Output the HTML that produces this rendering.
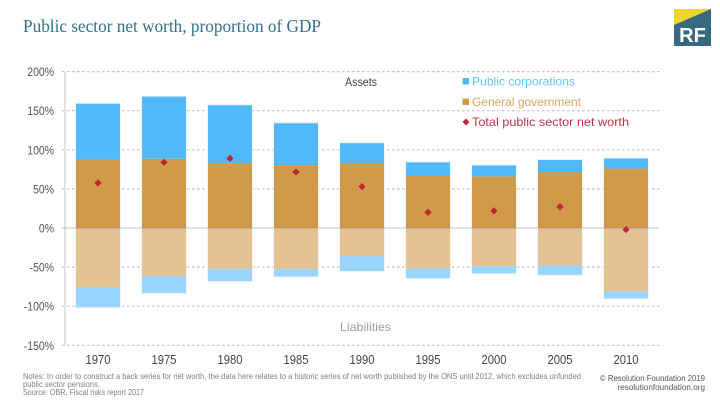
<!DOCTYPE html>
<html lang="en">
<head>
<meta charset="utf-8">
<title>Public sector net worth, proportion of GDP</title>
<style>
html,body{margin:0;padding:0;background:#fff;}
body{width:720px;height:405px;overflow:hidden;position:relative;}
svg{display:block;position:absolute;left:0;top:0;}
text{font-family:"Liberation Sans",sans-serif;}
</style>
</head>
<body>
<svg id="chart" width="720" height="405" viewBox="0 0 720 405">
  <text x="23" y="32" textLength="298" lengthAdjust="spacingAndGlyphs" style="font-family:'Liberation Serif',serif;font-size:18px;fill:#33708a">Public sector net worth, proportion of GDP</text>
  <g>
    <rect x="674" y="9" width="37" height="37" fill="#376a80"></rect>
    <polygon points="674,9 711,9 674,25" fill="#f0d62c"></polygon>
    <text x="692.5" y="42" text-anchor="middle" style="font-size:20px;font-weight:bold;fill:#fff">RF</text>
  </g>
  <g id="grid"></g>
  <g id="bars"></g>
  <g id="markers"></g>
  <g id="yticks"></g>
  <g id="xticks"></g>

  <text x="345" y="86" textLength="32" lengthAdjust="spacingAndGlyphs" style="font-size:11.5px;fill:#444">Assets</text>
  <text x="340" y="331" textLength="51" lengthAdjust="spacingAndGlyphs" style="font-size:12px;fill:#a0a0a0">Liabilities</text>

  <g>
    <rect x="462.500" y="78" width="6.500" height="6.500" fill="#53b9fd"></rect>
    <text x="472" y="85.500" textLength="103" lengthAdjust="spacingAndGlyphs" style="font-size:12px;fill:#66c1fd">Public corporations</text>
    <rect x="462.500" y="98.500" width="6.500" height="6.500" fill="#d09a48"></rect>
    <text x="472" y="106" textLength="109" lengthAdjust="spacingAndGlyphs" style="font-size:12px;fill:#d9a55c">General government</text>
    <polygon points="466,118.500 469.500,122 466,125.500 462.500,122" fill="#c0243a"></polygon>
    <text x="472" y="126" textLength="157" lengthAdjust="spacingAndGlyphs" style="font-size:12px;fill:#c0344a">Total public sector net worth</text>
  </g>

  <g style="font-size:8px;fill:#808080">
    <text x="23" y="379" textLength="558" lengthAdjust="spacingAndGlyphs">Notes: In order to construct a back series for net worth, the data here relates to a historic series of net worth published by the ONS until 2012, which excludes unfunded</text>
    <text x="23" y="387" textLength="77" lengthAdjust="spacingAndGlyphs">public sector pensions.</text>
    <text x="23" y="395" textLength="121" lengthAdjust="spacingAndGlyphs">Source: OBR, Fiscal risks report 2017</text>
  </g>
  <g style="font-size:8.500px;fill:#555">
    <text x="600" y="381" textLength="105" lengthAdjust="spacingAndGlyphs">© Resolution Foundation 2019</text>
    <text x="617.500" y="390" textLength="87.500" lengthAdjust="spacingAndGlyphs">resolutionfoundation.org</text>
  </g>
</svg>
<script>
const years = ['1970', '1975', '1980', '1985', '1990', '1995', '2000', '2005', '2010'];
const assetsGovernment = [87.5, 88.5, 83, 80.5, 83, 66.5, 66, 71.5, 76];
const assetsCorporations = [71.5, 79.5, 74, 53.5, 25.5, 17.5, 14, 15.5, 13];
const liabilitiesGovernment = [-76, -61.5, -52.5, -52.5, -36, -52, -49, -48, -81];
const liabilitiesCorporations = [-25.5, -21.5, -15.5, -9.5, -19, -12, -9, -12, -9];
const netWorth = [57.5, 84, 89, 71.5, 53, 20, 22, 27, -2];
const yTickValues = [200, 150, 100, 50, 0, -50, -100, -150];

const NS = 'http://www.w3.org/2000/svg';
function yScale(v) { return 228 - v * 0.782; }
function xScale(i) { return 98 + i * 66; }
function make(tag, parent, props) {
  const el = document.createElementNS(NS, tag);
  for (const k in props) el.setAttribute(k, props[k]);
  parent.appendChild(el);
  return el;
}
const gridG = document.getElementById('grid');
const barsG = document.getElementById('bars');
const markersG = document.getElementById('markers');
const yG = document.getElementById('yticks');
const xG = document.getElementById('xticks');

yTickValues.forEach(function (v) {
  const y = yScale(v);
  if (v !== 0) {
    const line = make('line', gridG, { x1: 62, x2: 660, y1: y, y2: y, stroke: '#c2c2c2', 'stroke-width': 1.2, 'stroke-dasharray': '2.500 2.500' });
    
    
  }
  const label = make('text', yG, { x: 54, y: y + 4.5, 'text-anchor': 'end', style: 'font-size:12px;fill:#555' });
  label.textContent = v + '%';
  label.setAttribute('textLength', (label.getComputedTextLength() * 0.87).toFixed(1));
  label.setAttribute('lengthAdjust', 'spacingAndGlyphs');
  
  
});

const axisLine = make('line', gridG, { x1: 65, x2: 65, y1: yScale(200), y2: yScale(-150), stroke: '#e0e0e0', 'stroke-width': 2 });



function bar(i, from, to, fill) {
  const top = yScale(Math.max(from, to));
  const bottom = yScale(Math.min(from, to));
  return make('rect', barsG, { x: xScale(i) - 22, y: top, width: 44, height: bottom - top, fill: fill });
}

years.forEach(function (year, i) {
  const assetTop = yScale(assetsGovernment[i] + assetsCorporations[i]);
  const liabilityBottom = yScale(liabilitiesGovernment[i] + liabilitiesCorporations[i]);
  const halo = make('rect', barsG, { x: xScale(i) - 22.5, y: assetTop - 0.5, width: 45, height: liabilityBottom - assetTop + 1, fill: '#fff', stroke: '#eef4f8', 'stroke-width': 1 });
  
  

  const g1 = bar(i, 0, assetsGovernment[i], '#d09a48');
  
  
  const g2 = bar(i, assetsGovernment[i], assetsGovernment[i] + assetsCorporations[i], '#53b9fd');
  
  
  const g3 = bar(i, 0, liabilitiesGovernment[i], '#e4c292');
  
  
  const g4 = bar(i, liabilitiesGovernment[i], liabilitiesGovernment[i] + liabilitiesCorporations[i], '#99d5fe');
  
  

  const label = make('text', xG, { x: xScale(i), y: 364, 'text-anchor': 'middle', textLength: 25, lengthAdjust: 'spacingAndGlyphs', style: 'font-size:13px;fill:#444' });
  label.textContent = year;
  
  
});

const zero = make('line', barsG, { x1: 62, x2: 659, y1: yScale(0), y2: yScale(0), stroke: 'rgba(140,140,140,0.25)', 'stroke-width': 2 });



netWorth.forEach(function (v, i) {
  const x = xScale(i), y = yScale(v), r = 3.6;
  const m = make('polygon', markersG, { points: [x, y - r, x + r, y, x, y + r, x - r, y].join(' '), fill: '#c0243a' });
  
  
});
</script>
</body>
</html>
